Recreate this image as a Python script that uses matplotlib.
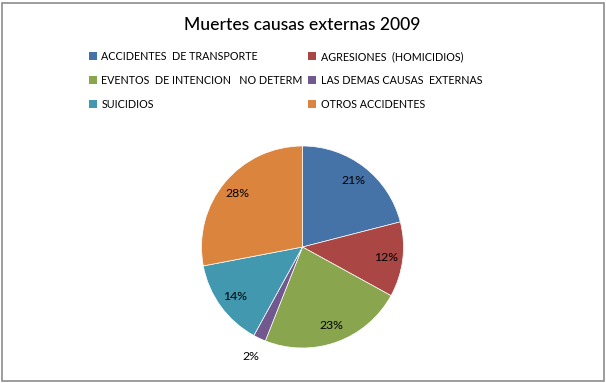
import numpy as np
import matplotlib.pyplot as plt
from matplotlib.patches import Patch, Rectangle

categorias = ['ACCIDENTES  DE TRANSPORTE', 'AGRESIONES  (HOMICIDIOS)',
              'EVENTOS  DE INTENCION   NO DETERM', 'LAS DEMAS CAUSAS  EXTERNAS',
              'SUICIDIOS', 'OTROS ACCIDENTES']
porcentajes = [21, 12, 23, 2, 14, 28]
colores = ['#4572A7', '#AA4643', '#89A54E', '#71588F', '#4198AF', '#DB843D']

plt.rcParams['font.family'] = ['Lato', 'DejaVu Sans']

W, H = 606, 383
fig = plt.figure(figsize=(W / 100, H / 100), dpi=100)

# borde gris del grafico
fig.patches.append(Rectangle((1.5 / W, 2.5 / H), (W - 4) / W, (H - 5) / H,
                             transform=fig.transFigure, fill=False,
                             edgecolor='#8c8c8c', linewidth=1.2))

fig.text(302 / W, 1 - 25 / H, 'Muertes causas externas 2009',
         ha='center', va='center', fontsize=12.6, fontweight='medium')

# pastel
cx, cy, r = 302.5, 247, 101
k = 1.35
ax = fig.add_axes([(cx - k * r) / W, (H - cy - k * r) / H, 2 * k * r / W, 2 * k * r / H])
wedges, _, autotexts = ax.pie(porcentajes, colors=colores, startangle=90,
                              counterclock=False, autopct='%1.0f%%',
                              pctdistance=0.83,
                              wedgeprops=dict(edgecolor='white', linewidth=0.5),
                              textprops=dict(fontsize=8.8, color='black'))
# la etiqueta pequena va fuera del pastel
w = wedges[3]
ang = np.deg2rad((w.theta1 + w.theta2) / 2)
autotexts[3].set_position((1.2 * np.cos(ang), 1.2 * np.sin(ang)))
ax.set_xlim(-k, k)
ax.set_ylim(-k, k)
ax.set_aspect('equal')
ax.axis('off')

# leyenda en orden por filas (2 columnas)
orden = [0, 2, 4, 1, 3, 5]
handles = [Patch(facecolor=colores[i]) for i in orden]
etiquetas = [categorias[i] for i in orden]
fig.legend(handles, etiquetas, ncol=2, loc='upper left',
           bbox_to_anchor=(89 / W, 1 - 51 / H), frameon=False,
           fontsize=7.75, handlelength=0.7, handleheight=0.7,
           handletextpad=0.45, labelspacing=1.2, columnspacing=0.5,
           borderpad=0, borderaxespad=0)

plt.savefig('out.png', dpi=100)
